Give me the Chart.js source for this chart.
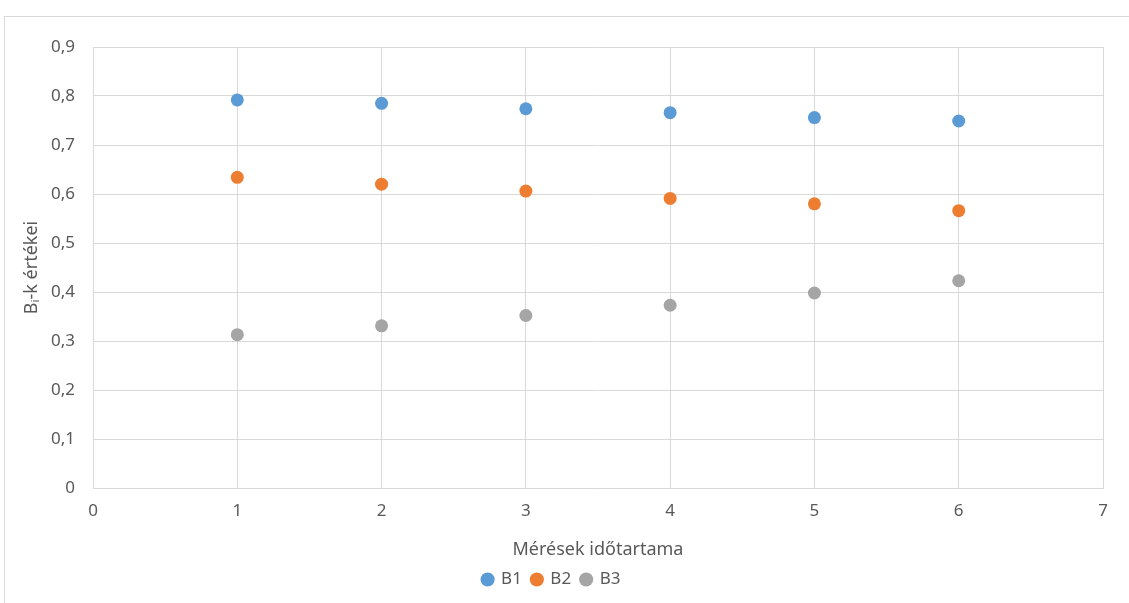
<!DOCTYPE html>
<html>
<head>
<meta charset="utf-8">
<script src="https://cdn.jsdelivr.net/npm/chart.js@4/dist/chart.umd.min.js"></script>
<style>
  html, body { margin: 0; padding: 0; background: #fff; }
  #frame { position: absolute; left: 4px; top: 16px; width: 1125px; height: 587px;
           border-left: 1px solid #d9d9d9; border-top: 1px solid #d9d9d9; }
  #wrap { position: absolute; left: 0; top: 0; width: 1129px; height: 603px; }
</style>
</head>
<body>
<div id="frame"></div>
<div id="wrap"><canvas id="myChart"></canvas></div>
<script>
// measurement times (x)
const times = [1, 2, 3, 4, 5, 6];
// series values
const b1 = [0.792, 0.785, 0.774, 0.766, 0.756, 0.749];
const b2 = [0.634, 0.620, 0.606, 0.591, 0.580, 0.566];
const b3 = [0.313, 0.331, 0.352, 0.373, 0.398, 0.423];
const seriesNames = ['B1', 'B2', 'B3'];
const seriesColors = ['#5B9BD5', '#ED7D31', '#A5A5A5'];

const textColor = '#595959';
const gridColor = '#d9d9d9';
const fontFamily = 'Noto Sans';

function toPoints(vals) {
    return times.map((t, i) => ({ x: t, y: vals[i] }));
}

const ctx = document.getElementById('myChart').getContext('2d');
const chart = new Chart(ctx, {
    type: 'scatter',
    data: {
        datasets: [b1, b2, b3].map((vals, i) => ({
            label: seriesNames[i],
            data: toPoints(vals),
            backgroundColor: seriesColors[i],
            borderColor: seriesColors[i],
            pointRadius: 6.5,
            pointHoverRadius: 6.5,
            borderWidth: 0
        }))
    },
    options: {
        responsive: true,
        maintainAspectRatio: false,
        animation: false,
        layout: { padding: { left: 0, right: 26, top: 47, bottom: 5 } },
        plugins: {
            tooltip: { enabled: false },
            legend: {
                position: 'bottom',
                labels: {
                    usePointStyle: true,
                    pointStyle: 'circle',
                    boxWidth: 10,
                    boxHeight: 10,
                    padding: 10,
                    color: textColor,
                    font: { family: fontFamily, size: 17 }
                }
            }
        },
        scales: {
            x: {
                type: 'linear',
                min: 0,
                max: 7,
                ticks: {
                    stepSize: 1,
                    color: textColor,
                    padding: 13,
                    font: { family: fontFamily, size: 17 }
                },
                grid: { color: gridColor, drawTicks: false },
                border: { color: gridColor },
                title: {
                    display: true,
                    text: 'Mérések időtartama',
                    color: textColor,
                    padding: { top: 0, bottom: 0 },
                    font: { family: fontFamily, size: 18 }
                },
                afterFit: function(scale) { scale.height = 73; }
            },
            y: {
                min: 0,
                max: 0.9,
                ticks: {
                    stepSize: 0.1,
                    color: textColor,
                    padding: 18,
                    font: { family: fontFamily, size: 17 },
                    callback: function(value) {
                        if (value === 0) return '0';
                        return value.toFixed(1).replace('.', ','); // comma decimals
                    }
                },
                grid: { color: gridColor, drawTicks: false },
                border: { color: gridColor },
                title: {
                    display: true,
                    text: 'Bᵢ-k értékei',
                    color: textColor,
                    padding: { top: 21, bottom: 0 },
                    font: { family: fontFamily, size: 18 }
                },
                afterFit: function(scale) { scale.width = 93; }
            }
        }
    }
});
</script>
</body>
</html>
